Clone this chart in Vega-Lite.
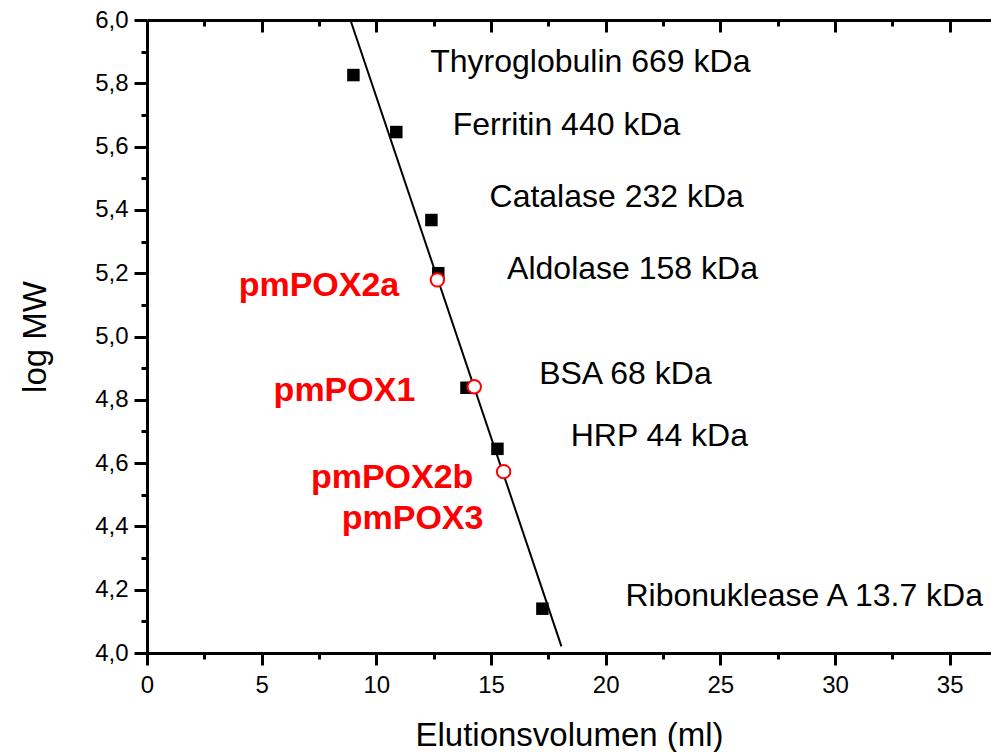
{
  "$schema": "https://vega.github.io/schema/vega-lite/v6.json",
  "width": 844,
  "height": 633,
  "autosize": "none",
  "padding": {"left": 147, "top": 20, "right": 0, "bottom": 99},
  "background": "white",
  "config": {
    "view": {"stroke": null},
    "axis": {
      "grid": false,
      "domainColor": "black",
      "domainWidth": 3,
      "tickColor": "black",
      "tickWidth": 3,
      "labelColor": "black",
      "labelFont": "Liberation Sans",
      "labelFontSize": 24,
      "titleColor": "black",
      "titleFont": "Liberation Sans",
      "titleFontSize": 33,
      "titleFontWeight": "normal"
    }
  },
  "datasets": {
    "fit": [
      {"vol": 8.87, "logmw": 6.0},
      {"vol": 18.07, "logmw": 4.021}
    ],
    "standards": [
      {"protein": "Thyroglobulin", "vol": 9.0, "logmw": 5.826},
      {"protein": "Ferritin", "vol": 10.87, "logmw": 5.646},
      {"protein": "Catalase", "vol": 12.4, "logmw": 5.368},
      {"protein": "Aldolase", "vol": 12.7, "logmw": 5.2},
      {"protein": "BSA", "vol": 13.93, "logmw": 4.838},
      {"protein": "HRP", "vol": 15.28, "logmw": 4.645},
      {"protein": "Ribonuklease A", "vol": 17.24, "logmw": 4.14}
    ],
    "samples": [
      {"protein": "pmPOX2a", "vol": 12.66, "logmw": 5.179},
      {"protein": "pmPOX1", "vol": 14.27, "logmw": 4.841},
      {"protein": "pmPOX2b", "vol": 15.55, "logmw": 4.573}
    ],
    "stdlabels": [
      {"label": "Thyroglobulin 669 kDa", "vol": 19.33, "logmw": 5.867},
      {"label": "Ferritin 440 kDa", "vol": 18.29, "logmw": 5.668},
      {"label": "Catalase 232 kDa", "vol": 20.48, "logmw": 5.441},
      {"label": "Aldolase 158 kDa", "vol": 21.17, "logmw": 5.214},
      {"label": "BSA 68 kDa", "vol": 20.86, "logmw": 4.882},
      {"label": "HRP 44 kDa", "vol": 22.34, "logmw": 4.686}
    ],
    "riblabel": [
      {"label": "Ribonuklease A 13.7 kDa", "vol": 20.86, "logmw": 4.181}
    ],
    "samplelabels": [
      {"label": "pmPOX2a", "vol": 11.0, "logmw": 5.16},
      {"label": "pmPOX1", "vol": 11.7, "logmw": 4.828},
      {"label": "pmPOX2b", "vol": 14.23, "logmw": 4.554},
      {"label": "pmPOX3", "vol": 14.67, "logmw": 4.424}
    ]
  },
  "resolve": {"axis": {"x": "independent", "y": "independent"}},
  "layer": [
    {
      "data": {"name": "fit"},
      "mark": {"type": "line", "color": "black", "strokeWidth": 2},
      "encoding": {
        "x": {
          "field": "vol", "type": "quantitative",
          "scale": {"domain": [0, 36.8], "nice": false, "zero": false},
          "axis": {
            "orient": "bottom", "values": [0, 5, 10, 15, 20, 25, 30, 35],
            "tickSize": 12, "labelPadding": 8, "titlePadding": 22,
            "title": "Elutionsvolumen (ml)", "labelFlush": false, "labelOverlap": false
          }
        },
        "y": {
          "field": "logmw", "type": "quantitative",
          "scale": {"domain": [4, 6], "nice": false, "zero": false},
          "axis": {
            "orient": "left", "values": [4, 4.2, 4.4, 4.6, 4.8, 5, 5.2, 5.4, 5.6, 5.8, 6],
            "tickSize": 13, "labelPadding": 6, "titlePadding": 42,
            "labelExpr": "replace(format(datum.value, '.1f'), '.', ',')",
            "title": "log MW", "labelFlush": false, "labelOverlap": false
          }
        }
      }
    },
    {
      "data": {"name": "standards"},
      "mark": {"type": "square", "color": "black", "filled": true, "size": 156, "opacity": 1},
      "encoding": {
        "x": {
          "field": "vol", "type": "quantitative",
          "scale": {"domain": [0, 36.8], "nice": false, "zero": false},
          "axis": {
            "orient": "bottom", "values": [2.5, 7.5, 12.5, 17.5, 22.5, 27.5, 32.5],
            "tickSize": 6, "labels": false, "domain": false, "title": null
          }
        },
        "y": {
          "field": "logmw", "type": "quantitative",
          "scale": {"domain": [4, 6], "nice": false, "zero": false},
          "axis": {
            "orient": "left", "values": [4.1, 4.3, 4.5, 4.7, 4.9, 5.1, 5.3, 5.5, 5.7, 5.9],
            "tickSize": 6, "labels": false, "domain": false, "title": null
          }
        }
      }
    },
    {
      "data": {"name": "samples"},
      "mark": {"type": "point", "shape": "circle", "filled": false, "fill": "white", "fillOpacity": 1, "stroke": "#ff0000", "strokeWidth": 2, "size": 180, "opacity": 1},
      "encoding": {
        "x": {
          "field": "vol", "type": "quantitative",
          "scale": {"domain": [0, 36.8], "nice": false, "zero": false},
          "axis": {
            "orient": "top", "values": [0, 5, 10, 15, 20, 25, 30, 35],
            "tickSize": -12, "labels": false, "title": null
          }
        },
        "y": {
          "field": "logmw", "type": "quantitative",
          "scale": {"domain": [4, 6], "nice": false, "zero": false},
          "axis": null
        }
      }
    },
    {
      "data": {"name": "stdlabels"},
      "mark": {"type": "text", "font": "Liberation Sans", "fontSize": 32, "color": "black", "align": "center", "baseline": "middle"},
      "encoding": {
        "x": {
          "field": "vol", "type": "quantitative",
          "scale": {"domain": [0, 36.8], "nice": false, "zero": false},
          "axis": {
            "orient": "top", "values": [2.5, 7.5, 12.5, 17.5, 22.5, 27.5, 32.5],
            "tickSize": -6, "labels": false, "domain": false, "title": null
          }
        },
        "y": {
          "field": "logmw", "type": "quantitative",
          "scale": {"domain": [4, 6], "nice": false, "zero": false},
          "axis": null
        },
        "text": {"field": "label"}
      }
    },
    {
      "data": {"name": "riblabel"},
      "mark": {"type": "text", "font": "Liberation Sans", "fontSize": 32, "color": "black", "align": "left", "baseline": "middle"},
      "encoding": {
        "x": {"field": "vol", "type": "quantitative", "scale": {"domain": [0, 36.8], "nice": false, "zero": false}, "axis": null},
        "y": {"field": "logmw", "type": "quantitative", "scale": {"domain": [4, 6], "nice": false, "zero": false}, "axis": null},
        "text": {"field": "label"}
      }
    },
    {
      "data": {"name": "samplelabels"},
      "mark": {"type": "text", "font": "Liberation Sans", "fontSize": 34, "fontWeight": "bold", "color": "#ff0000", "align": "right", "baseline": "middle"},
      "encoding": {
        "x": {"field": "vol", "type": "quantitative", "scale": {"domain": [0, 36.8], "nice": false, "zero": false}, "axis": null},
        "y": {"field": "logmw", "type": "quantitative", "scale": {"domain": [4, 6], "nice": false, "zero": false}, "axis": null},
        "text": {"field": "label"}
      }
    }
  ]
}
